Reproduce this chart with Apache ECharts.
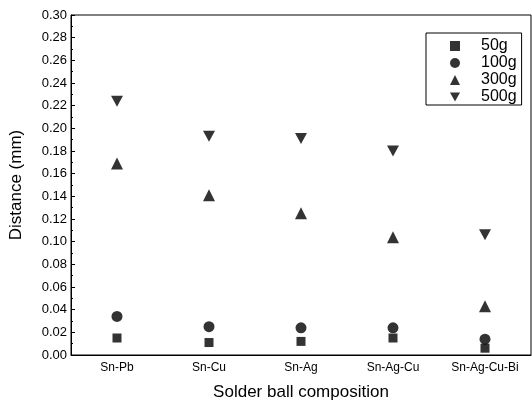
<!DOCTYPE html>
<html lang="en">
<head>
    <meta charset="UTF-8">
    <script src="https://cdn.jsdelivr.net/npm/echarts@6/dist/echarts.min.js"></script>
    <title>Distance</title>
    <style>
        html, body {
            margin: 0;
            padding: 0;
            width: 532px;
            height: 409px;
            background: #fff;
            overflow: hidden;
        }
        #chart {
            width: 532px;
            height: 409px;
        }
    </style>
</head>
<body>
<div id="chart"></div>
<script>
    // values (mm)
    var categories = ['Sn-Pb', 'Sn-Cu', 'Sn-Ag', 'Sn-Ag-Cu', 'Sn-Ag-Cu-Bi'];
    var load50 = [0.015, 0.011, 0.012, 0.015, 0.006];
    var load100 = [0.034, 0.025, 0.024, 0.024, 0.014];
    var load300 = [0.169, 0.141, 0.125, 0.104, 0.043];
    var load500 = [0.224, 0.193, 0.191, 0.180, 0.106];
    var loadNames = ['50g', '100g', '300g', '500g'];

    var font = 'Liberation Sans, Arial, sans-serif';
    var downTri = 'path://M0,0 L10,0 L5,9 Z';

    var myChart = echarts.init(document.getElementById('chart'));

    function scatter(name, data, symbol, size) {
        return {
            name: name,
            type: 'scatter',
            data: data,
            symbol: symbol,
            symbolSize: size,
            itemStyle: {color: '#000'},
            emphasis: {disabled: true},
            animation: false
        };
    }

    var option = {
        animation: false,
        grid: {
            left: 71,
            top: 15,
            right: 1,
            bottom: 54,
            outerBoundsMode: 'none',
            show: true,
            borderColor: '#000',
            borderWidth: 1
        },
        legend: {
            orient: 'vertical',
            left: 426,
            top: 33,
            padding: [5, 5, 0, 24],
            itemWidth: 10,
            itemHeight: 10,
            itemGap: 1,
            borderColor: '#000',
            borderWidth: 1,
            textStyle: {fontFamily: font, fontSize: 16, lineHeight: 14, color: '#000', padding: [0, 0, 0, 16]},
            data: loadNames
        },
        xAxis: {
            type: 'category',
            data: categories,
            name: 'Solder ball composition',
            nameLocation: 'middle',
            nameGap: 29,
            nameTextStyle: {fontFamily: font, fontSize: 17, color: '#000'},
            axisLine: {lineStyle: {color: '#000', width: 1}},
            axisTick: {inside: true, length: 7, alignWithLabel: true, lineStyle: {color: '#000'}},
            axisLabel: {fontFamily: font, fontSize: 12, color: '#000', margin: 7},
            splitLine: {show: false}
        },
        yAxis: {
            type: 'value',
            min: 0,
            max: 0.3,
            interval: 0.02,
            name: 'Distance (mm)',
            nameLocation: 'middle',
            nameGap: 46,
            nameTextStyle: {fontFamily: font, fontSize: 17, color: '#000'},
            axisLine: {show: true, lineStyle: {color: '#000', width: 1}},
            axisTick: {show: true, inside: true, length: 4, lineStyle: {color: '#000'}},
            minorTick: {show: true, splitNumber: 2, length: 2, lineStyle: {color: '#000'}},
            axisLabel: {
                fontFamily: font, fontSize: 13, color: '#000', margin: 4,
                formatter: function (v) { return v.toFixed(2); }
            },
            splitLine: {show: false}
        },
        series: [
            scatter(loadNames[0], load50, 'rect', 9),
            scatter(loadNames[1], load100, 'circle', 11),
            scatter(loadNames[2], load300, 'triangle', 12),
            scatter(loadNames[3], load500, downTri, [12, 11])
        ]
    };

    myChart.setOption(option);
</script>
</body>
</html>
